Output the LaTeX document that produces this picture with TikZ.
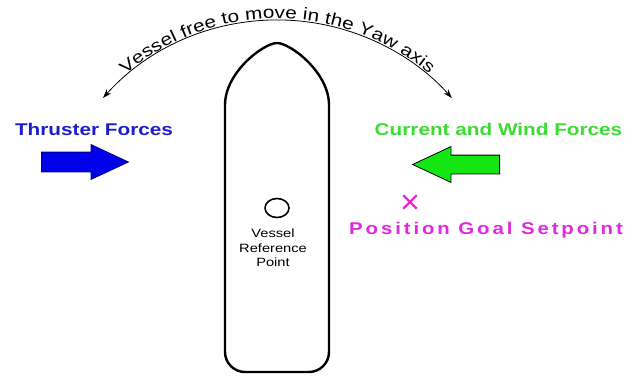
\documentclass[tikz,border=0pt]{standalone}
\usepackage{fontspec}
\setmainfont{Liberation Sans}
\newfontfamily\widefont{Liberation Sans}[FakeStretch=1.22]
\newfontfamily\widebold{Liberation Sans Bold}[FakeStretch=1.22]
\newfontfamily\widespaced{Liberation Sans Bold}[FakeStretch=1.2,LetterSpace=17]
\newcommand{\arcfont}{\widefont\fontsize{17}{17}\selectfont}
\usetikzlibrary{arrows.meta,shapes.arrows,shapes.misc,shapes.geometric,decorations.text}

\definecolor{thrustblue}{RGB}{0,0,235}
\definecolor{thrustdark}{RGB}{0,0,140}
\definecolor{textblue}{RGB}{30,30,200}
\definecolor{windgreen}{RGB}{20,230,20}
\definecolor{textgreen}{RGB}{60,220,50}
\definecolor{goalmagenta}{RGB}{225,40,225}

\begin{document}
\begin{tikzpicture}[
    x=1pt, y=-1pt,
    hull/.style={draw, line width=2.4pt, line join=round},
    yawarc/.style={draw, line width=0.8pt, {Stealth[length=9pt,width=6pt]}-{Stealth[length=9pt,width=6pt]}},
    forcearrow/.style={single arrow, anchor=tail, minimum height=87pt, minimum width=0pt, inner xsep=0pt, single arrow tip angle=50},
    forcelabel/.style={font=\widebold\fontsize{17}{20}\selectfont, inner sep=0pt},
    reflabel/.style={align=center, font=\widefont\fontsize{12}{14.5}\selectfont, inner sep=0pt}
]
\useasboundingbox (0,0) rectangle (631,377);

% vessel outline
\draw[hull] (225,105) .. controls (225,72) and (264,43) .. (277,43)
    .. controls (290,43) and (329,72) .. (329,105)
    -- (329,352) arc[start angle=0, end angle=90, radius=20]
    -- (245,372) arc[start angle=90, end angle=180, radius=20] -- cycle;

\node[draw, line width=1.6pt, ellipse, minimum width=24pt, minimum height=19pt, inner sep=0pt] (refpt) at (277,208) {};
\node[reflabel] (reftext) at (273,248) {Vessel\\Reference\\Point};

% yaw motion
\coordinate (yawL) at (103,98);
\coordinate (yawR) at (452,98);
\draw[yawarc] (yawL) arc[start angle=-138.2, end angle=-41.8, radius=234];
\path[decorate, decoration={text along path, text align=center, raise=1.5pt,
    text={|\arcfont|Vessel free to move in the Yaw axis}}]
    (yawL) arc[start angle=-138.2, end angle=-41.8, radius=234];

% forces
\node[forcelabel, text=textblue] (thrustlbl) at (94,129) {Thruster Forces};
\node[forcearrow, fill=thrustblue, draw=thrustdark, line width=0.8pt, inner ysep=9.5pt, single arrow head extend=7.5pt] (thrust) at (41,162) {};

\node[forcelabel, text=textgreen] (windlbl) at (498.5,129) {Current and Wind Forces};
\node[forcearrow, fill=windgreen, draw=black, line width=0.8pt, inner ysep=9pt, single arrow head extend=8.5pt, shape border rotate=180] (wind) at (500,164.5) {};

% setpoint
\node[cross out, draw=goalmagenta, line width=2.4pt, minimum size=11pt, inner sep=0pt] (goal) at (410,202) {};
\node[font=\widespaced\fontsize{17}{20}\selectfont, text=goalmagenta, inner sep=0pt] (goallbl) at (486,230) {Position Goal Setpoint};

\end{tikzpicture}
\end{document}
